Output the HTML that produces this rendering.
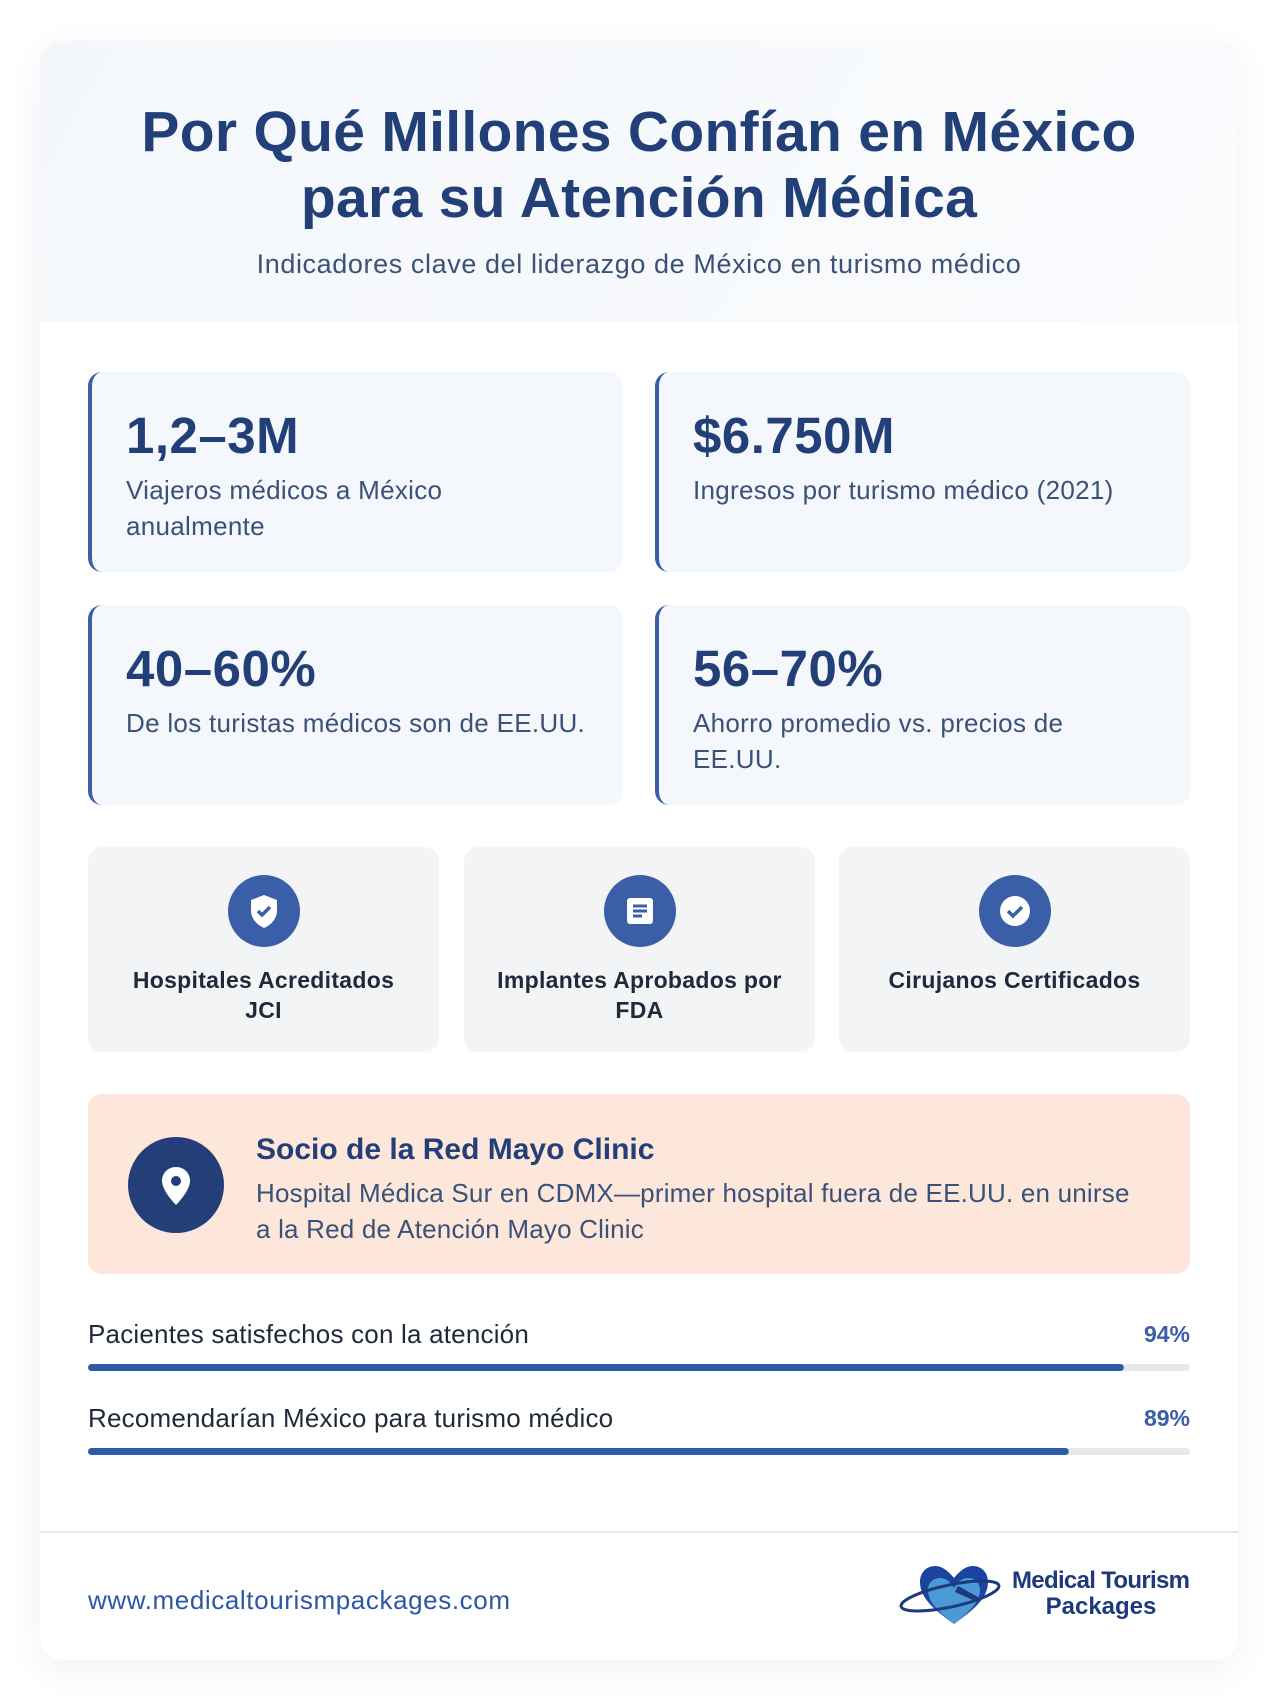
<!DOCTYPE html>
<html><head><meta charset="utf-8">
<style>
*{box-sizing:border-box;margin:0;padding:0}
body{width:1280px;height:1704px;background:#fff;font-family:"Liberation Sans","Noto Sans CJK JP",sans-serif;position:relative;overflow:hidden}
.card{position:absolute;left:40px;top:41px;width:1198px;height:1619px;background:#fff;border-radius:22px;box-shadow:0 10px 40px rgba(0,0,0,0.06);overflow:hidden}
.head{position:absolute;left:0;top:0;width:100%;height:281px;background:linear-gradient(120deg,#f3f7fb,#fafbfd)}
h1{position:absolute;left:0;width:100%;top:58px;text-align:center;color:#233f78;font-size:57px;line-height:66px;font-weight:bold;letter-spacing:0.3px}
.sub{position:absolute;left:0;width:100%;top:208px;text-align:center;color:#3a5278;font-size:27px;letter-spacing:0.6px}
.stat{position:absolute;width:535px;height:200px;background:#f4f7fb;border-radius:14px;border-left:4px solid #3a5ea8}
.stat .n{position:absolute;left:34px;top:34px;font-size:51px;font-weight:bold;color:#233f78;letter-spacing:0.5px}
.stat .l{position:absolute;left:34px;top:100px;width:470px;font-size:26px;line-height:36px;color:#3a5278;letter-spacing:0.3px}
.cert{position:absolute;top:806px;width:351px;height:205px;background:#f3f4f6;border-radius:14px}
.cert .ic{position:absolute;left:140px;top:28px;width:72px;height:72px;border-radius:50%;background:#3a5ea8}
.cert .t{position:absolute;left:30px;right:30px;top:118px;text-align:center;font-size:23px;line-height:30px;font-weight:bold;color:#1e2a3a;letter-spacing:0.3px}
.mayo{position:absolute;left:48px;top:1053px;width:1102px;height:180px;background:#fde6da;border-radius:14px}
.mayo .c{position:absolute;left:40px;top:43px;width:96px;height:96px;border-radius:50%;background:#243f78}
.mayo .tt{position:absolute;left:168px;top:39px;font-size:30px;font-weight:bold;color:#243f78}
.mayo .tx{position:absolute;left:168px;top:81px;width:880px;font-size:26px;line-height:36px;color:#3a5278;letter-spacing:0.2px}
.pl{position:absolute;left:48px;font-size:26px;color:#1e2a3a;letter-spacing:0.2px}
.pv{position:absolute;right:48px;font-size:23px;font-weight:bold;color:#3a5ea8}
.foot{position:absolute;left:0;top:1490px;width:100%;border-top:2px solid #e5e8ec}
.url{position:absolute;left:48px;top:1544px;font-size:26px;color:#2c57a8;letter-spacing:0.6px}
.logo{position:absolute;left:896px;top:1558px;width:300px;height:70px}
</style></head><body>
<div class="card">
<div class="head"></div>
<h1>Por Qué Millones Confían en México<br>para su Atención Médica</h1>
<div class="sub">Indicadores clave del liderazgo de México en turismo médico</div>

<div class="stat" style="left:48px;top:331px"><div class="n">1,2–3M</div><div class="l" style="width:350px">Viajeros médicos a México anualmente</div></div>
<div class="stat" style="left:615px;top:331px"><div class="n">$6.750M</div><div class="l">Ingresos por turismo médico (2021)</div></div>
<div class="stat" style="left:48px;top:564px"><div class="n">40–60%</div><div class="l">De los turistas médicos son de EE.UU.</div></div>
<div class="stat" style="left:615px;top:564px"><div class="n">56–70%</div><div class="l" style="width:400px">Ahorro promedio vs. precios de EE.UU.</div></div>

<div class="cert" style="left:48px"><div class="ic"><svg width="72" height="72" viewBox="0 0 72 72"><path d="M36 20l13 5v10c0 9-6 15-13 18-7-3-13-9-13-18V25z" fill="#fff"/><path d="M30 36l4 4 8-8" stroke="#3a5ea8" stroke-width="3.5" fill="none"/></svg></div><div class="t">Hospitales Acreditados JCI</div></div>
<div class="cert" style="left:424px"><div class="ic"><svg width="72" height="72" viewBox="0 0 72 72"><rect x="23" y="23" width="26" height="26" rx="3" fill="#fff"/><path d="M29 31h14M29 36h14M29 41h9" stroke="#3a5ea8" stroke-width="3"/></svg></div><div class="t">Implantes Aprobados por FDA</div></div>
<div class="cert" style="left:799px"><div class="ic"><svg width="72" height="72" viewBox="0 0 72 72"><circle cx="36" cy="36" r="15" fill="#fff"/><path d="M29 36l5 5 9-9" stroke="#3a5ea8" stroke-width="3.5" fill="none"/></svg></div><div class="t" style="top:118px;left:10px;right:10px">Cirujanos Certificados</div></div>

<div class="mayo"><div class="c"><svg width="96" height="96" viewBox="0 0 96 96"><path d="M48 30c-8 0-14 6-14 14 0 10 14 24 14 24s14-14 14-24c0-8-6-14-14-14z" fill="#fff"/><circle cx="48" cy="44" r="5" fill="#243f78"/></svg></div>
<div class="tt">Socio de la Red Mayo Clinic</div>
<div class="tx">Hospital Médica Sur en CDMX—primer hospital fuera de EE.UU. en unirse a la Red de Atención Mayo Clinic</div></div>

<svg id="bars" style="position:absolute;left:0;top:0" width="1198" height="1619"></svg>

<div class="foot"></div>
<div class="url">www.medicaltourismpackages.com</div>
</div>
<svg class="logo" viewBox="0 0 300 70">
<path d="M58 66C42 54 24 42 24 24c0-10 7-16 15-16 8 0 14 6 19 12 5-6 11-12 19-12 8 0 15 6 15 16 0 18-18 30-34 42z" fill="#1a44a0"/>
<path d="M58 66C46 56 32 46 32 32c0-7 5-12 12-12 7 0 11 5 14 10 3-5 7-10 14-10 7 0 12 5 12 12 0 14-14 24-26 34z" fill="#4a9ad8"/>
<ellipse cx="54" cy="38" rx="50" ry="11" fill="none" stroke="#1f3a7a" stroke-width="3" transform="rotate(-12 54 38)"/>
<path d="M62 28l22 12-5 3-20-9z" fill="#1f3a7a"/>
<text x="205" y="30" text-anchor="middle" font-family="Liberation Sans, sans-serif" font-weight="bold" font-size="24" fill="#1f3a7a" textLength="178">Medical Tourism</text>
<text x="205" y="56" text-anchor="middle" font-family="Liberation Sans, sans-serif" font-weight="bold" font-size="24" fill="#1f3a7a">Packages</text>
</svg>
<script>
const labels=["Pacientes satisfechos con la atención","Recomendarían México para turismo médico"];
const values=[94,89];
const svg=document.getElementById('bars');
const card=document.querySelector('.card');
const x0=48,w=1102,top0=1278,step=84;
const sx=v=>w*v/100;
labels.forEach((lab,i)=>{
 const y=top0+i*step;
 const l=document.createElement('div');l.className='pl';l.style.top=y+'px';l.textContent=lab;
 
 
 card.appendChild(l);
 const v=document.createElement('div');v.className='pv';v.style.top=(y+2)+'px';v.textContent=values[i]+'%';
 
 
 card.appendChild(v);
 const bg=document.createElementNS('http://www.w3.org/2000/svg','rect');
 bg.setAttribute('x',x0);bg.setAttribute('y',y+45);bg.setAttribute('width',w);bg.setAttribute('height',7);bg.setAttribute('rx',3.5);bg.setAttribute('fill','#e6e8ec');
 
 
 svg.appendChild(bg);
 const fg=document.createElementNS('http://www.w3.org/2000/svg','rect');
 fg.setAttribute('x',x0);fg.setAttribute('y',y+45);fg.setAttribute('width',sx(values[i]));fg.setAttribute('height',7);fg.setAttribute('rx',3.5);fg.setAttribute('fill','#2f5aa6');
 
 
 svg.appendChild(fg);
});
</script>
</body></html>
